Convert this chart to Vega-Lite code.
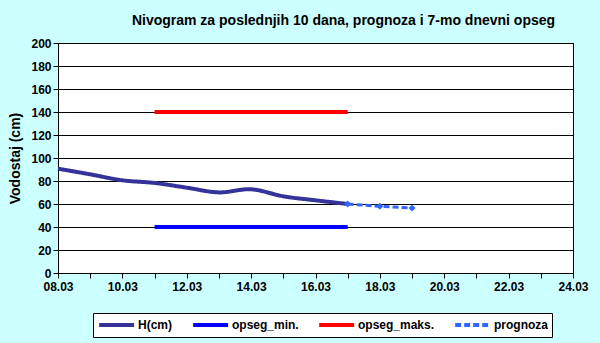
{
  "$schema": "https://vega.github.io/schema/vega-lite/v6.json",
  "width": 515,
  "height": 230,
  "autosize": {"type": "none"},
  "padding": {"left": 58, "top": 43, "right": 27, "bottom": 70},
  "background": "#CCFFFF",
  "view": {"fill": "white", "stroke": "black", "strokeWidth": 1},
  "title": {
    "text": "Nivogram za poslednjih 10 dana, prognoza i 7-mo dnevni opseg",
    "anchor": "middle",
    "dx": 28,
    "offset": 9,
    "font": "Arial",
    "fontSize": 14,
    "fontWeight": "bold",
    "color": "black"
  },
  "config": {
    "font": "Arial",
    "axis": {"labelFont": "Arial", "labelFontWeight": "bold", "labelFontSize": 12, "labelColor": "black", "domainColor": "black", "tickColor": "black", "titleFont": "Arial"}
  },
  "data": {
    "values": [
      {"date": "2024-03-08", "value": 90.7, "series": "H(cm)"},
      {"date": "2024-03-09", "value": 85.8, "series": "H(cm)"},
      {"date": "2024-03-10", "value": 80.6, "series": "H(cm)"},
      {"date": "2024-03-11", "value": 78.3, "series": "H(cm)"},
      {"date": "2024-03-12", "value": 74.2, "series": "H(cm)"},
      {"date": "2024-03-13", "value": 70.1, "series": "H(cm)"},
      {"date": "2024-03-14", "value": 72.8, "series": "H(cm)"},
      {"date": "2024-03-15", "value": 66.7, "series": "H(cm)"},
      {"date": "2024-03-16", "value": 63.2, "series": "H(cm)"},
      {"date": "2024-03-17", "value": 60, "series": "H(cm)"},
      {"date": "2024-03-11", "value": 40, "series": "opseg_min."},
      {"date": "2024-03-17", "value": 40, "series": "opseg_min."},
      {"date": "2024-03-11", "value": 140, "series": "opseg_maks."},
      {"date": "2024-03-17", "value": 140, "series": "opseg_maks."},
      {"date": "2024-03-17", "value": 60, "series": "prognoza"},
      {"date": "2024-03-18", "value": 58, "series": "prognoza"},
      {"date": "2024-03-19", "value": 56.5, "series": "prognoza"}
    ]
  },
  "encoding": {
    "x": {
      "field": "date",
      "type": "temporal",
      "scale": {"type": "utc", "domain": [{"year": 2024, "month": 3, "date": 8, "utc": true}, {"year": 2024, "month": 3, "date": 24, "utc": true}]},
      "axis": {
        "title": null,
        "grid": false,
        "values": [
          {"year": 2024, "month": 3, "date": 8, "utc": true},
          {"year": 2024, "month": 3, "date": 9, "utc": true},
          {"year": 2024, "month": 3, "date": 10, "utc": true},
          {"year": 2024, "month": 3, "date": 11, "utc": true},
          {"year": 2024, "month": 3, "date": 12, "utc": true},
          {"year": 2024, "month": 3, "date": 13, "utc": true},
          {"year": 2024, "month": 3, "date": 14, "utc": true},
          {"year": 2024, "month": 3, "date": 15, "utc": true},
          {"year": 2024, "month": 3, "date": 16, "utc": true},
          {"year": 2024, "month": 3, "date": 17, "utc": true},
          {"year": 2024, "month": 3, "date": 18, "utc": true},
          {"year": 2024, "month": 3, "date": 19, "utc": true},
          {"year": 2024, "month": 3, "date": 20, "utc": true},
          {"year": 2024, "month": 3, "date": 21, "utc": true},
          {"year": 2024, "month": 3, "date": 22, "utc": true},
          {"year": 2024, "month": 3, "date": 23, "utc": true},
          {"year": 2024, "month": 3, "date": 24, "utc": true}
        ],
        "labelExpr": "utcdate(datum.value) % 2 == 0 ? utcFormat(datum.value, '%d.%m') : ''",
        "labelFlush": false,
        "labelOverlap": false,
        "tickSize": 5,
        "labelPadding": 3
      }
    },
    "y": {
      "field": "value",
      "type": "quantitative",
      "scale": {"domain": [0, 200], "nice": false},
      "axis": {
        "title": "Vodostaj (cm)",
        "titleFontSize": 14,
        "titleFontWeight": "bold",
        "titleColor": "black",
        "titlePadding": 8,
        "values": [0, 20, 40, 60, 80, 100, 120, 140, 160, 180, 200],
        "grid": true,
        "gridColor": "black",
        "gridOpacity": 1,
        "tickSize": 5
      }
    },
    "color": {
      "field": "series",
      "type": "nominal",
      "scale": {"domain": ["H(cm)", "opseg_min.", "opseg_maks.", "prognoza"], "range": ["#333399", "#0000FF", "#FF0000", "#3366FF"]},
      "legend": {
        "title": null,
        "orient": "none",
        "legendX": 35,
        "legendY": 270,
        "direction": "horizontal",
        "symbolType": "M-1,0H5",
        "symbolSize": 136,
        "symbolStrokeWidth": 4,
        "labelFont": "Arial",
        "labelFontSize": 12,
        "labelFontWeight": "bold",
        "labelColor": "black",
        "labelOffset": 25,
        "columnPadding": 12,
        "padding": 4,
        "strokeColor": "black",
        "fillColor": "white"
      }
    },
    "strokeDash": {
      "field": "series",
      "type": "nominal",
      "scale": {"domain": ["H(cm)", "opseg_min.", "opseg_maks.", "prognoza"], "range": [[1, 0], [1, 0], [1, 0], [6, 3]]},
      "legend": null
    }
  },
  "layer": [
    {
      "transform": [{"filter": "datum.series == 'H(cm)'"}],
      "mark": {"type": "line", "interpolate": "catmull-rom", "strokeWidth": 4}
    },
    {
      "transform": [{"filter": "datum.series == 'opseg_min.' || datum.series == 'opseg_maks.'"}],
      "mark": {"type": "line", "strokeWidth": 4}
    },
    {
      "transform": [{"filter": "datum.series == 'prognoza'"}],
      "mark": {"type": "line", "strokeWidth": 3}
    },
    {
      "transform": [{"filter": "datum.series == 'prognoza'"}],
      "mark": {"type": "point", "shape": "diamond", "filled": true, "size": 50, "opacity": 1},
      "encoding": {"strokeDash": {"value": [1, 0]}}
    }
  ]
}
